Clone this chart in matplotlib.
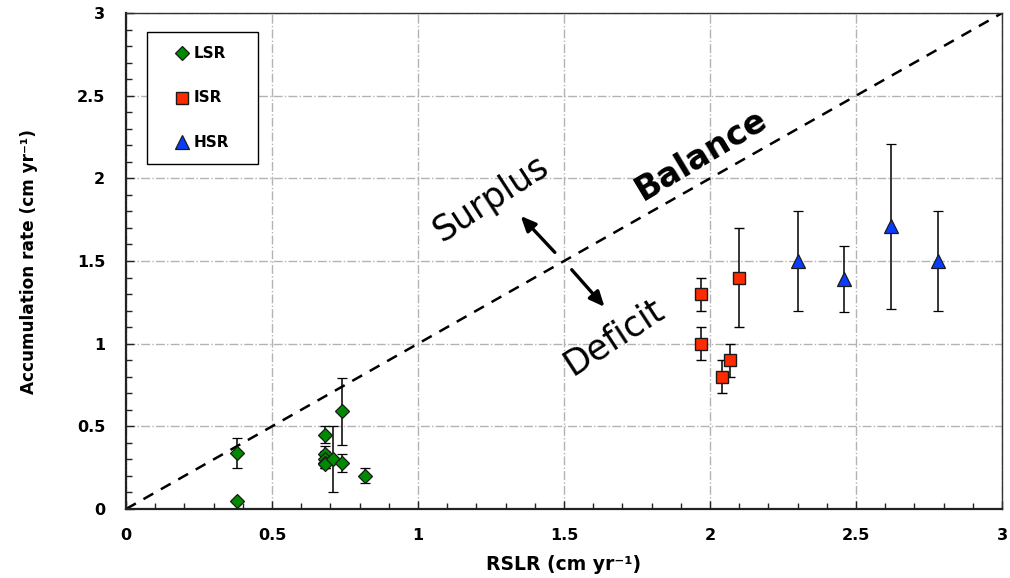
import matplotlib
matplotlib.use("Agg")
import matplotlib.pyplot as plt
from matplotlib.patches import Rectangle
from matplotlib.ticker import MultipleLocator

# Low sediment-supply reaches
lsr_x = [0.38, 0.38, 0.68, 0.68, 0.68, 0.68, 0.68, 0.71, 0.74, 0.74, 0.82]
lsr_y = [0.34, 0.05, 0.45, 0.33, 0.30, 0.28, 0.27, 0.30, 0.59, 0.28, 0.20]
lsr_err = [0.09, 0.00, 0.05, 0.05, 0.05, 0.03, 0.02, 0.20, 0.20, 0.055, 0.045]

# Intermediate sediment-supply reaches
isr_x = [1.97, 1.97, 2.04, 2.07, 2.10]
isr_y = [1.30, 1.00, 0.80, 0.90, 1.40]
isr_err = [0.10, 0.10, 0.10, 0.10, 0.30]

# High sediment-supply reaches
hsr_x = [2.30, 2.46, 2.62, 2.78]
hsr_y = [1.50, 1.39, 1.71, 1.50]
hsr_err = [0.30, 0.20, 0.50, 0.30]

balance = [0, 3]
ticks = [0, 0.5, 1, 1.5, 2, 2.5, 3]
tick_labels = ["0", "0.5", "1", "1.5", "2", "2.5", "3"]
series_names = ["LSR", "ISR", "HSR"]

fig = plt.figure(figsize=(10.10, 5.78), dpi=100)
ax = fig.add_axes([0.1248, 0.1194, 0.8673, 0.858])

ax.set_xlim(0, 3)
ax.set_ylim(0, 3)

ax.grid(True, which="major", color="#b3b3b3", linestyle="-.", linewidth=1.0)
ax.set_axisbelow(True)

# 1:1 line where accretion keeps pace with sea-level rise
ax.plot(balance, balance, color="black", linestyle=(0, (4.5, 3.5)), linewidth=1.8, zorder=2)

styles = [
    dict(marker="D", markersize=7.0, markerfacecolor="#008a00", markeredgewidth=0.9),
    dict(marker="s", markersize=8.8, markerfacecolor="#ff2a00", markeredgewidth=1.0),
    dict(marker="^", markersize=10, markerfacecolor="#0a3cff", markeredgewidth=0.9),
]
err_kw = dict(ecolor="black", elinewidth=1.1, capsize=3.5, capthick=1.1, linestyle="none", zorder=3)
for xs, ys, es, st in zip([lsr_x, isr_x, hsr_x], [lsr_y, isr_y, hsr_y],
                          [lsr_err, isr_err, hsr_err], styles):
    ax.errorbar(xs, ys, yerr=es, markeredgecolor="#1a1a1a", **st, **err_kw)

ax.set_xticks(ticks)
ax.set_xticklabels(tick_labels)
ax.set_yticks(ticks)
ax.set_yticklabels(tick_labels)
ax.xaxis.set_minor_locator(MultipleLocator(0.1))
ax.yaxis.set_minor_locator(MultipleLocator(0.1))
ax.tick_params(which="both", direction="in", top=False, right=False, color="#222222")
ax.tick_params(which="major", length=6, width=1.0)
ax.tick_params(which="minor", length=4, width=1.0)
ax.tick_params(axis="x", which="major", pad=14)
ax.tick_params(axis="y", which="major", pad=15)
for lab in ax.get_xticklabels() + ax.get_yticklabels():
    lab.set_fontweight("bold")
    lab.set_fontsize(11.5)
    lab.set_fontfamily("DejaVu Sans")

for side in ("left", "bottom"):
    ax.spines[side].set_linewidth(1.6)
    ax.spines[side].set_color("#222222")
for side in ("top", "right"):
    ax.spines[side].set_linewidth(1.0)
    ax.spines[side].set_color("#333333")

ax.set_xlabel("RSLR (cm yr\u207b\u00b9)", fontsize=13.5, fontweight="bold",
              fontfamily="DejaVu Sans")
ax.xaxis.set_label_coords(0.5, -0.093)
ax.set_ylabel("Accumulation rate (cm yr\u207b\u00b9)", fontsize=12.2, fontweight="bold",
              fontfamily="DejaVu Sans")
ax.yaxis.set_label_coords(-0.100, 0.5)

ax.text(1.25, 1.88, "Surplus", rotation=33, fontsize=25, ha="center", va="center",
        fontfamily="DejaVu Sans", zorder=4)
ax.text(1.97, 2.14, "Balance", rotation=31, fontsize=24, fontweight="bold", ha="center",
        va="center", fontfamily="DejaVu Sans", zorder=4)
ax.text(1.67, 1.04, "Deficit", rotation=33, fontsize=25, ha="center", va="center",
        fontfamily="DejaVu Sans", zorder=4)

arrow_kw = dict(arrowstyle="-|>,head_length=0.9,head_width=0.4", color="black", lw=2.4)
ax.annotate("", xy=(1.345, 1.785), xytext=(1.475, 1.54), arrowprops=arrow_kw)
ax.annotate("", xy=(1.645, 1.21), xytext=(1.52, 1.46), arrowprops=arrow_kw)

# Key box in the upper-left corner
key_box = Rectangle((0.024, 0.6956), 0.1267, 0.2661, transform=ax.transAxes,
                    facecolor="white", edgecolor="black", linewidth=1.0, zorder=5)
ax.add_patch(key_box)
key_rows = [0.919, 0.829, 0.740]
for name, st, yk in zip(series_names, styles, key_rows):
    ax.plot([0.0639], [yk], transform=ax.transAxes, linestyle="none",
            markeredgecolor="#1a1a1a", zorder=6,
            **{k: (v * 0.95 if k == "markersize" else v) for k, v in st.items()})
    ax.text(0.0776, yk, name, transform=ax.transAxes, ha="left", va="center",
            fontsize=11, fontweight="bold", fontfamily="DejaVu Sans", zorder=6)

fig.savefig("out.png", dpi=100)
